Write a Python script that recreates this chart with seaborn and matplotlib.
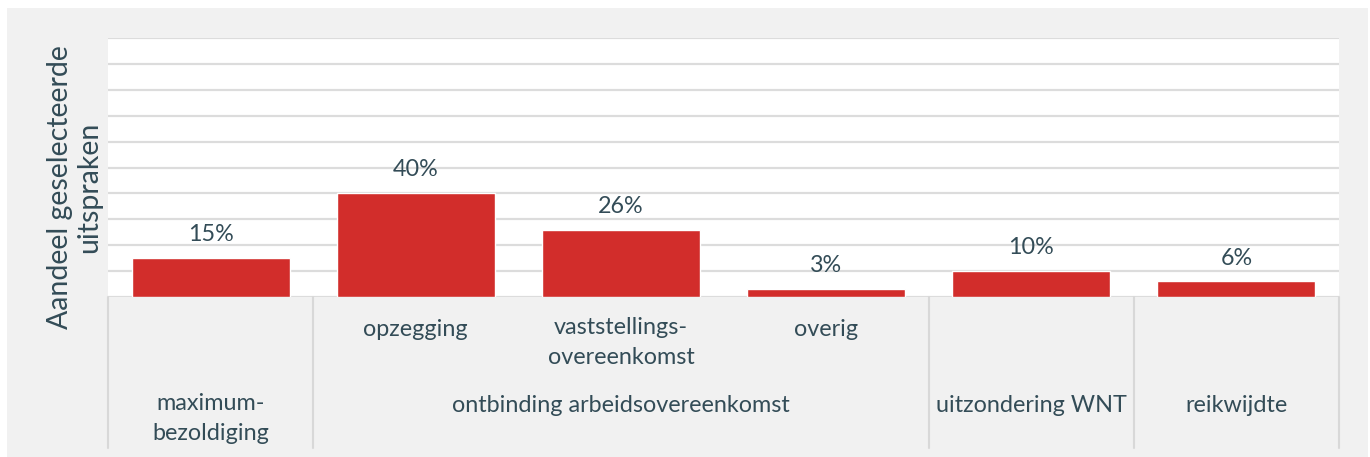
import numpy as np
import pandas as pd
import matplotlib
matplotlib.use("Agg")
import matplotlib.pyplot as plt
import seaborn as sns
from matplotlib.patches import Rectangle

# data
categories = ["maximum-bezoldiging", "opzegging", "vaststellings-overeenkomst",
              "overig", "uitzondering WNT", "reikwijdte"]
values = [15, 40, 26, 3, 10, 6]
sub_labels = ["", "opzegging", "vaststellings-\novereenkomst", "overig", "", ""]
group_labels = ["maximum-\nbezoldiging", "ontbinding arbeidsovereenkomst",
                "uitzondering WNT", "reikwijdte"]
group_spans = [(0, 0), (1, 3), (4, 4), (5, 5)]

df = pd.DataFrame({"categorie": categories, "aandeel": values})

sns.set_theme(style="white")
plt.rcParams["font.family"] = ["Lato", "DejaVu Sans"]
text_col = "#334c57"
bar_col = "#d22d2b"
grid_col = "#dcdcdc"
fs = 16.8
pitch = 28  # px between label lines


def label_below(x, first_base_px, text):
    # va='baseline' anchors the last line, so shift by the extra lines
    n = text.count("\n")
    y = -(first_base_px + pitch * n) / 259
    ax.annotate(text, (x, y), xycoords=("data", "axes fraction"),
                ha="center", va="baseline", fontsize=fs, color=text_col,
                linespacing=1.55, annotation_clip=False)


fig = plt.figure(figsize=(13.7, 4.57), dpi=100, facecolor="white")
bg = Rectangle((7 / 1370, 0), 1361 / 1370, 449 / 457,
               transform=fig.transFigure, facecolor="#f1f1f1",
               edgecolor="none", zorder=-10)
fig.add_artist(bg)
ax = fig.add_axes([108 / 1370, 1 - 297 / 457, 1231 / 1370, 259 / 457])
ax.set_facecolor("white")

sns.barplot(data=df, x="categorie", y="aandeel", color=bar_col, saturation=1,
            width=0.77, ax=ax, zorder=3)

ax.set_ylim(0, 100)
ax.set_xlim(-0.5, len(categories) - 0.5)
ax.set_yticks(np.arange(0, 101, 10))
ax.yaxis.grid(True, color=grid_col, linewidth=1.6)
ax.set_axisbelow(True)
ax.tick_params(length=0, labelleft=False, labelbottom=False)
for s in ax.spines.values():
    s.set_visible(False)
ax.set_xlabel("")
ax.set_ylabel("")

# value labels
for i, v in enumerate(values):
    ax.annotate(f"{v}%", (i, v), xytext=(0, 12.2), textcoords="offset points",
                ha="center", va="baseline", fontsize=fs, color=text_col)

# category labels below the axis
for i, lab in enumerate(sub_labels):
    if lab:
        label_below(i, 39, lab)
for lab, (a, b) in zip(group_labels, group_spans):
    label_below((a + b) / 2, 115, lab)

# separators
bounds = [-0.5] + [b + 0.5 for _, b in group_spans]
for x in bounds:
    ax.plot([x, x], [0, -151 / 259], transform=ax.get_xaxis_transform(),
            color="#d8d8d8", linewidth=1.5, clip_on=False)

fig.text(75 / 1370, 1 - 187 / 457, "Aandeel geselecteerde\nuitspraken",
         rotation=90, ha="center", va="center", multialignment="center",
         fontsize=20.5, color=text_col, linespacing=1.15)

fig.savefig("out.png", dpi=100, facecolor=fig.get_facecolor())
